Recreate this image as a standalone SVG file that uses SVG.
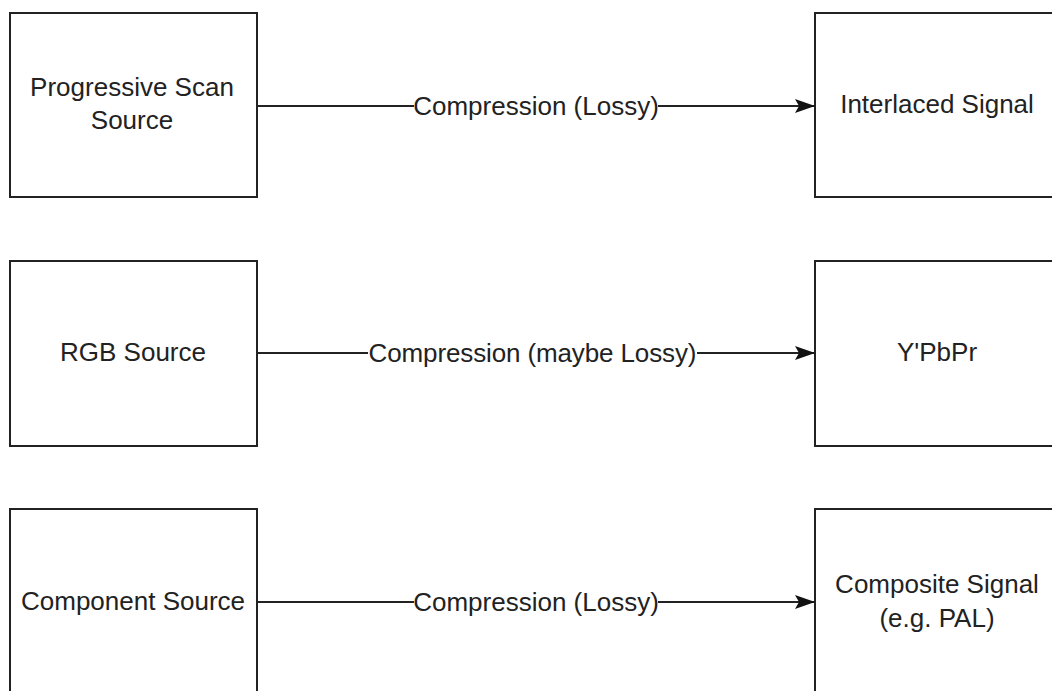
<svg xmlns="http://www.w3.org/2000/svg" width="1052" height="691" viewBox="0 0 1052 691">
<style>
.box{fill:#fff;stroke:#222;stroke-width:2}
.t{font-family:"Liberation Sans",Arial,sans-serif;font-size:26px;fill:#222;text-anchor:middle}
.c{fill:none;stroke:#222;stroke-width:1.8}
</style>
<defs>
<marker id="ah" markerWidth="20" markerHeight="14" refX="20" refY="7" orient="auto" markerUnits="userSpaceOnUse">
<path d="M0,0 L20,7 L0,14 L4,7 Z" fill="#111"/>
</marker>
</defs>
<rect width="1052" height="691" fill="#fff"/>
<g id="n1"><rect class="box" x="10" y="13" width="247" height="184"/><text class="t" x="132" y="95.5">Progressive Scan</text><text class="t" x="132" y="128.5">Source</text></g>
<g id="n2"><rect class="box" x="815" y="13" width="247" height="184"/><text class="t" x="937" y="113">Interlaced Signal</text></g>
<g id="n3"><rect class="box" x="10" y="261" width="247" height="185"/><text class="t" x="133" y="361">RGB Source</text></g>
<g id="n4"><rect class="box" x="815" y="261" width="247" height="185"/><text class="t" x="937" y="361">Y'PbPr</text></g>
<g id="n5"><rect class="box" x="10" y="509" width="247" height="190"/><text class="t" x="133" y="610">Component Source</text></g>
<g id="n6"><rect class="box" x="815" y="509" width="247" height="190"/><text class="t" x="937" y="593">Composite Signal</text><text class="t" x="937" y="627">(e.g. PAL)</text></g>
<g id="connectors">
<path class="c" d="M257,106 H414"/><path class="c" d="M658,106 H815" marker-end="url(#ah)"/>
<text class="t" x="536" y="115">Compression (Lossy)</text>
<path class="c" d="M257,353 H368"/><path class="c" d="M697,353 H815" marker-end="url(#ah)"/>
<text class="t" x="532.5" y="362" textLength="328" lengthAdjust="spacing">Compression (maybe Lossy)</text>
<path class="c" d="M257,602 H414"/><path class="c" d="M658,602 H815" marker-end="url(#ah)"/>
<text class="t" x="536" y="611">Compression (Lossy)</text>
</g>
</svg>
